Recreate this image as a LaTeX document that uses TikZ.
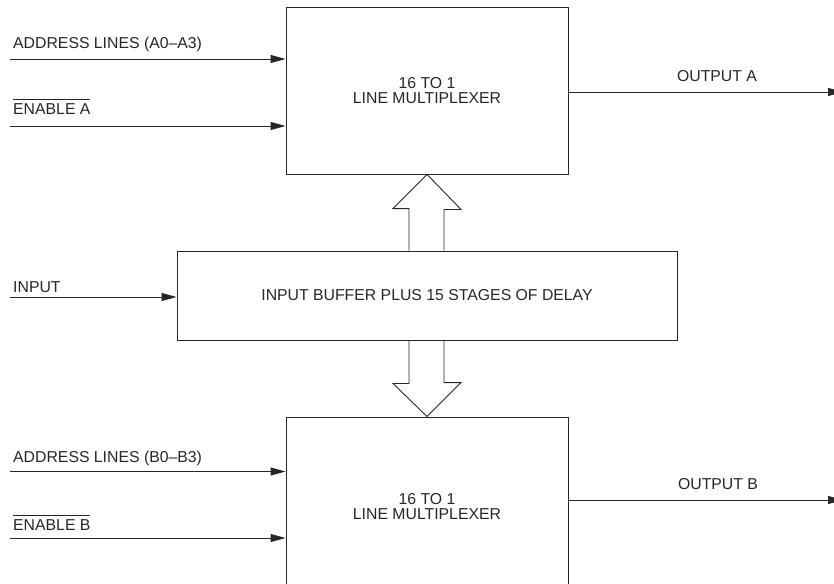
\documentclass[tikz,border=0pt]{standalone}
\usepackage{fontspec}
\setmainfont{Liberation Sans}
\usetikzlibrary{arrows.meta,calc}
\newcommand\myovl[1]{\leavevmode\vbox{\hrule height 0.9pt\kern 3pt\hbox{#1}}}
\begin{document}
\begin{tikzpicture}[x=1pt,y=-1pt,
  every node/.style={font=\fontsize{15.8}{15}\selectfont, inner sep=0pt, text=black!85},
  ln/.style={line width=0.9pt, draw=black!85},
  box/.style={ln, draw, minimum width=282pt, align=center},
  arr/.style={ln, -{Triangle[length=15pt,width=8pt]}},
  lbl/.style={anchor=base west},
  olbl/.style={anchor=base},
  fat/.style={ln, line join=miter}]
\useasboundingbox (0,0) rectangle (834,583);
\clip (0,0) rectangle (834,583);
% boxes
\node[box, minimum height=167pt] (muxA) at (427,90.5) {16 TO 1\\LINE MULTIPLEXER};
\node[ln, draw, minimum width=500pt, minimum height=89pt] (buf) at (427,295.5) {INPUT BUFFER PLUS 15 STAGES OF DELAY};
\node[box, minimum height=180pt] (muxB) at (427,507) {16 TO 1\\LINE MULTIPLEXER};
% fat arrows
\draw[fat] ($(buf.north)+(-18,0)$) -- ++(0,-42) -- ++(-16,0) -- (muxA.south)
  -- ($(muxA.south)+(34,35)$) -- ++(-17,0) -- ($(buf.north)+(17,0)$);
\draw[fat] ($(buf.south)+(-18,0)$) -- ++(0,43) -- ++(-16,0) -- (muxB.north)
  -- ($(muxB.north)+(34,-34)$) -- ++(-17,0) -- ($(buf.south)+(17,0)$);
% inputs A
\coordinate (inAa) at (10,59);
\draw[arr] (inAa) -- (inAa -| muxA.west);
\node[lbl] (tAa) at (13,49) {ADDRESS LINES (A0--A3)};
\coordinate (inAe) at (10,126);
\draw[arr] (inAe) -- (inAe -| muxA.west);
\node[lbl] (tAe) at (13,114) {\myovl{ENABLE A}};
% input
\coordinate (inI) at (10,297);
\draw[arr] (inI) -- (inI -| buf.west);
\node[lbl] (tI) at (13,292) {INPUT};
% inputs B
\coordinate (inBa) at (10,471.5);
\draw[arr] (inBa) -- (inBa -| muxB.west);
\node[lbl] (tBa) at (13,462) {ADDRESS LINES (B0--B3)};
\coordinate (inBe) at (10,538);
\draw[arr] (inBe) -- (inBe -| muxB.west);
\node[lbl] (tBe) at (13,530) {\myovl{ENABLE B}};
% outputs
\coordinate (oA) at (843,92);
\draw[arr] (oA -| muxA.east) -- (oA);
\node[olbl] (tOA) at (717,82) {OUTPUT A};
\coordinate (oB) at (843,500);
\draw[arr] (oB -| muxB.east) -- (oB);
\node[olbl] (tOB) at (718,489) {OUTPUT B};
\end{tikzpicture}
\end{document}
